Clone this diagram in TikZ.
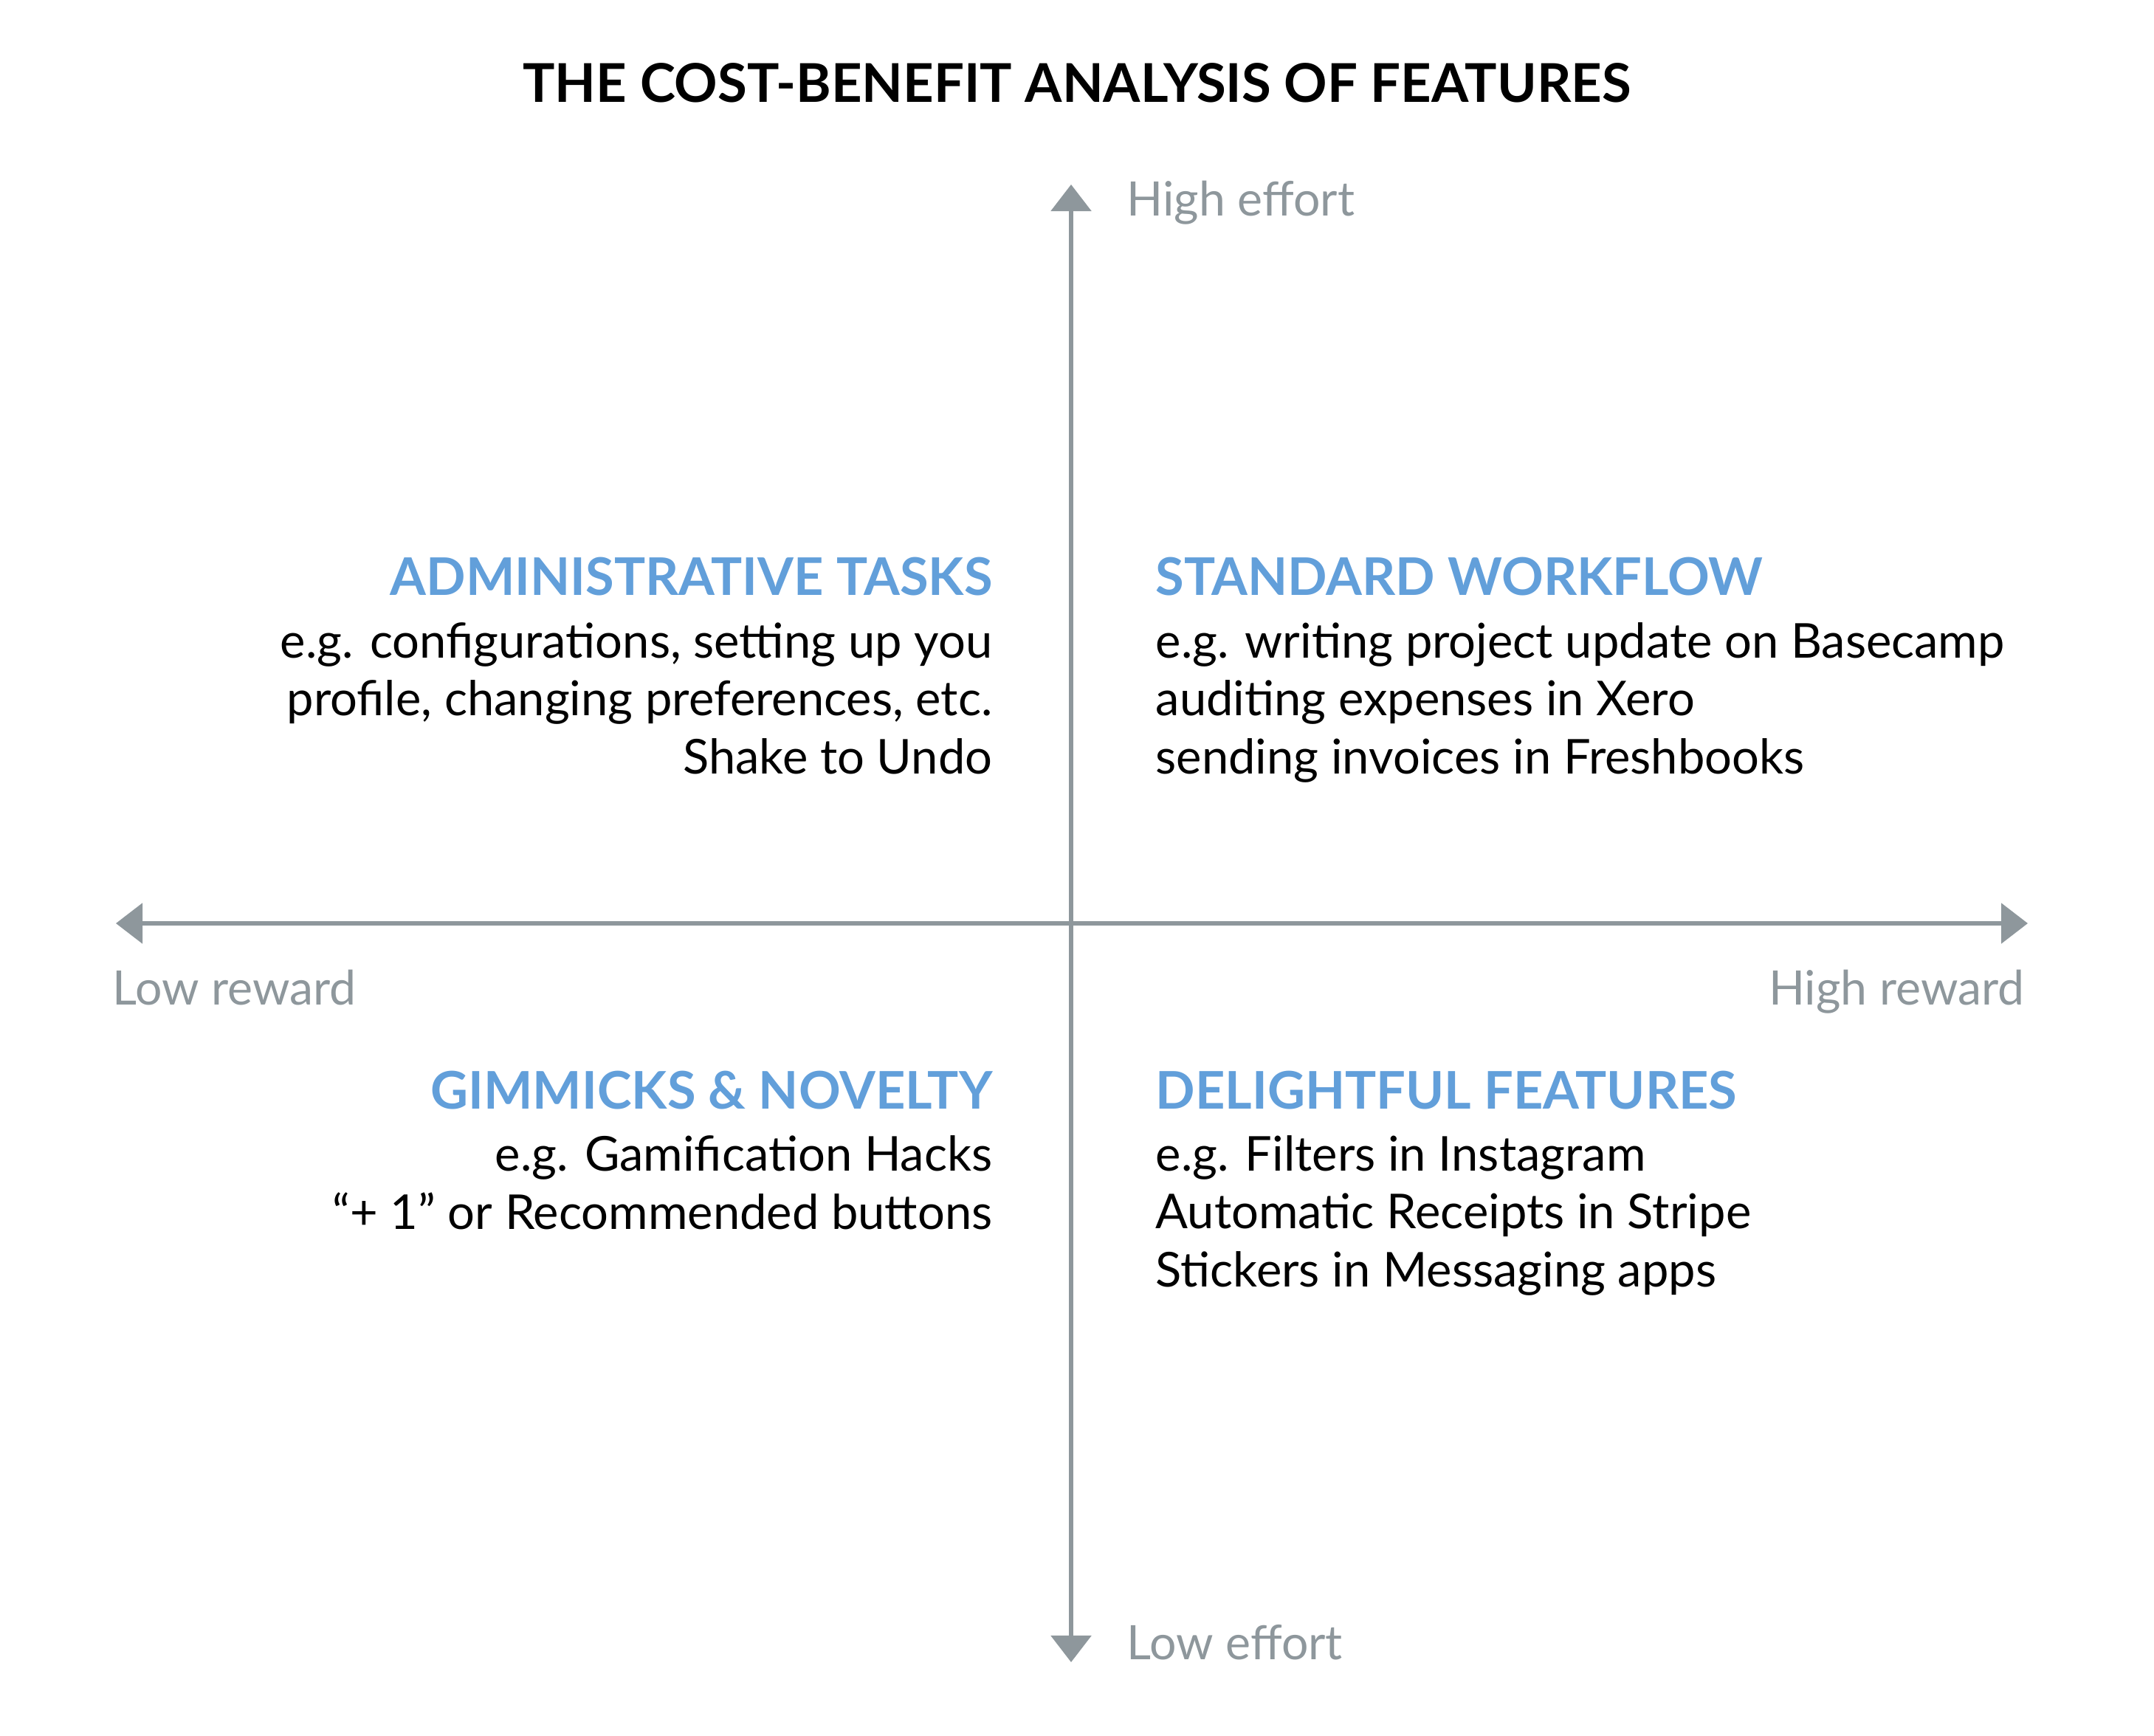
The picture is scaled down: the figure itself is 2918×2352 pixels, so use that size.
\documentclass[tikz,border=0pt]{standalone}
\usepackage{fontspec}
\setmainfont{Lato}
\usetikzlibrary{arrows.meta}
\definecolor{axisgray}{HTML}{8E979C}
\definecolor{headblue}{HTML}{629FDA}
\tikzset{
  axis/.style={draw=axisgray, line width=0.055cm,
    {Triangle[length=0.36cm,width=0.54cm]}-{Triangle[length=0.36cm,width=0.54cm]}},
  axislabel/.style={text=axisgray, inner sep=0, font=\fontsize{18.3}{22}\selectfont},
  quadhead/.style={text=headblue, inner sep=0, font=\bfseries\fontsize{20}{24}\selectfont},
  quadbody/.style={inner sep=0, font=\fontsize{18.5}{22.2}\selectfont},
}
\begin{document}
\begin{tikzpicture}[x=0.01cm, y=-0.01cm]
\useasboundingbox (0,0) rectangle (2918,2352);
\node[anchor=base, inner sep=0, font=\bfseries\fontsize{20.6}{24}\selectfont] (title) at (1459,139) {THE COST-BENEFIT ANALYSIS OF FEATURES};

% axes
\coordinate (effort top) at (1451,250);
\coordinate (effort bottom) at (1451,2252);
\coordinate (reward left) at (157,1251);
\coordinate (reward right) at (2747,1251);
\draw[axis] (reward left) -- (reward right);
\draw[axis] (effort top) -- (effort bottom);
\node[axislabel, anchor=base west] (high effort) at (1526,293) {High effort};
\node[axislabel, anchor=base west] (low effort) at (1526,2248) {Low effort};
\node[axislabel, anchor=base west] (low reward) at (152,1361) {Low reward};
\node[axislabel, anchor=base east] (high reward) at (2743,1361) {High reward};

% upper quadrants (body nodes sit on their last baseline)
\node[quadhead, anchor=base east] (admin head) at (1345,806) {ADMINISTRATIVE TASKS};
\node[quadbody, anchor=base east, align=right] (admin body) at (1345,1048) {e.g. configurations, setting up you\\profile, changing preferences, etc.\\Shake to Undo};
\node[quadhead, anchor=base west] (standard head) at (1565,806) {STANDARD WORKFLOW};
\node[quadbody, anchor=base west, align=left] (standard body) at (1565,1048) {e.g. writing project update on Basecamp\\auditing expenses in Xero\\sending invoices in Freshbooks};

% lower quadrants
\node[quadhead, anchor=base east] (gimmick head) at (1345,1502) {GIMMICKS \& NOVELTY};
\node[quadbody, anchor=base east, align=right] (gimmick body) at (1345,1665) {e.g. Gamification Hacks\\“+ 1” or Recommended buttons};
\node[quadhead, anchor=base west] (delight head) at (1565,1502) {DELIGHTFUL FEATURES};
\node[quadbody, anchor=base west, align=left] (delight body) at (1565,1743) {e.g. Filters in Instagram\\Automatic Receipts in Stripe\\Stickers in Messaging apps};
\end{tikzpicture}
\end{document}
